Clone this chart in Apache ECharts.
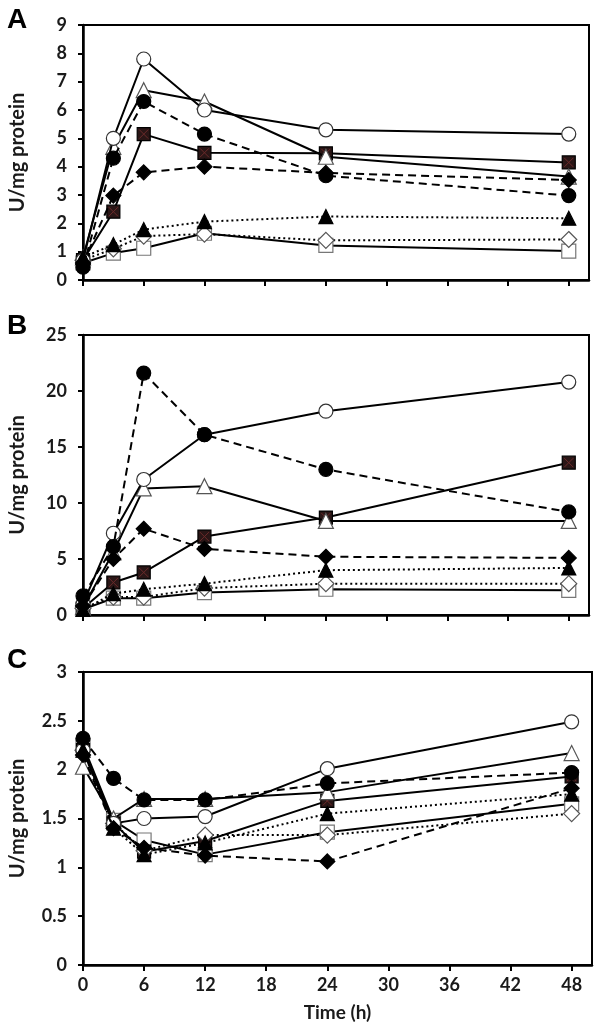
<!DOCTYPE html>
<html><head><meta charset="utf-8">
<script src="https://cdn.jsdelivr.net/npm/echarts@6/dist/echarts.min.js"></script>
<style>html,body{margin:0;padding:0;background:#fff}#c{width:600px;height:1028px}</style>
</head><body><div id="c"></div>
<script>
const times = [0, 3, 6, 12, 24, 48];
const xTickValues = [0, 6, 12, 18, 24, 30, 36, 42, 48];
const panelLetters = ['A', 'B', 'C'];
const yMaxes = [9, 25, 3];
const yIntervals = [1, 5, 0.5];

// Panel A
const aOpenCircle    = [0.7, 5.0, 7.8, 6.0, 5.3, 5.15];
const aFilledCircle  = [0.45, 4.3, 6.3, 5.15, 3.68, 2.98];
const aOpenTriangle  = [0.8, 4.7, 6.7, 6.3, 4.35, 3.65];
const aFilledTriangle= [0.8, 1.25, 1.78, 2.06, 2.24, 2.18];
const aSquareX       = [0.7, 2.41, 5.15, 4.49, 4.47, 4.15];
const aOpenSquare    = [0.6, 0.95, 1.12, 1.65, 1.22, 1.02];
const aFilledDiamond = [0.6, 2.98, 3.8, 4.0, 3.78, 3.53];
const aOpenDiamond   = [0.7, 1.1, 1.55, 1.62, 1.4, 1.43];

// Panel B
const bOpenCircle    = [1.0, 7.3, 12.1, 16.1, 18.2, 20.8];
const bFilledCircle  = [1.7, 6.1, 21.6, 16.1, 13.0, 9.2];
const bOpenTriangle  = [0.7, 5.6, 11.3, 11.5, 8.4, 8.4];
const bFilledTriangle= [0.5, 1.9, 2.3, 2.8, 4.0, 4.2];
const bSquareX       = [0.6, 2.9, 3.8, 7.0, 8.7, 13.6];
const bOpenSquare    = [0.5, 1.5, 1.5, 2.0, 2.3, 2.2];
const bFilledDiamond = [0.8, 5.0, 7.7, 5.9, 5.2, 5.1];
const bOpenDiamond   = [0.6, 1.6, 1.6, 2.4, 2.8, 2.8];

// Panel C
const cOpenCircle    = [2.2, 1.45, 1.5, 1.52, 2.01, 2.49];
const cFilledCircle  = [2.32, 1.91, 1.69, 1.69, 1.86, 1.97];
const cOpenTriangle  = [2.03, 1.5, 1.7, 1.7, 1.77, 2.17];
const cFilledTriangle= [2.2, 1.4, 1.13, 1.25, 1.55, 1.75];
const cSquareX       = [2.2, 1.45, 1.16, 1.27, 1.68, 1.93];
const cOpenSquare    = [2.25, 1.48, 1.28, 1.13, 1.36, 1.65];
const cFilledDiamond = [2.15, 1.4, 1.2, 1.12, 1.06, 1.81];
const cOpenDiamond   = [2.2, 1.45, 1.17, 1.33, 1.33, 1.55];

const panels = [
  [aOpenCircle, aFilledCircle, aOpenTriangle, aFilledTriangle, aSquareX, aOpenSquare, aFilledDiamond, aOpenDiamond],
  [bOpenCircle, bFilledCircle, bOpenTriangle, bFilledTriangle, bSquareX, bOpenSquare, bFilledDiamond, bOpenDiamond],
  [cOpenCircle, cFilledCircle, cOpenTriangle, cFilledTriangle, cSquareX, cOpenSquare, cFilledDiamond, cOpenDiamond]
];

const DASH = [8, 5], DOT = [2, 3];
const styles = [
  {symbol: 'circle',   size: 14, fill: '#fff', border: '#333', line: 'solid', z: 6},
  {symbol: 'circle',   size: 14, fill: '#000', border: '#000', line: DASH, z: 9},
  {symbol: 'triangle', size: 15, fill: '#fff', border: '#555', line: 'solid', z: 5},
  {symbol: 'triangle', size: 14, fill: '#000', border: '#000', line: DOT, z: 7},
  {symbol: 'rect',     size: 13, fill: '#2a1616', border: '#000', line: 'solid', z: 3},
  {symbol: 'rect',     size: 14, fill: '#fff', border: '#777', line: 'solid', z: 2},
  {symbol: 'diamond',  size: 15, fill: '#000', border: '#000', line: DASH, z: 8},
  {symbol: 'diamond',  size: 16, fill: '#fff', border: '#555', line: DOT, z: 4}
];

const grids = [
  {left: 80, right: 11, top: 25, height: 255},
  {left: 80, right: 11, top: 335, height: 280},
  {left: 81, right: 8, top: 672, height: 293}
];
const letterTops = [1, 307, 641];

const FONT = 'Lato';
const xAxes = [], yAxes = [], series = [], titles = [];
grids.forEach((g, p) => {
  g.show = true; g.borderColor = '#000'; g.borderWidth = 2; g.backgroundColor = '#fff';
  xAxes.push({
    gridIndex: p, type: 'value', min: 0, max: 50,
    axisLine: {show: true, onZero: false, lineStyle: {color: '#000', width: 2.5}},
    axisTick: {show: true, inside: false, length: 6, customValues: xTickValues, lineStyle: {color: '#000', width: 2}},
    axisLabel: {show: p === 2, customValues: xTickValues, margin: 11, color: '#1a1a1a', fontFamily: FONT, fontWeight: 'bold', fontSize: 18},
    splitLine: {show: false},
    name: p === 2 ? 'Time (h)' : '', nameLocation: 'middle', nameGap: 38,
    nameTextStyle: {color: '#1a1a1a', fontFamily: FONT, fontWeight: 'bold', fontSize: 19}
  });
  yAxes.push({
    gridIndex: p, type: 'value', min: 0, max: yMaxes[p], interval: yIntervals[p],
    axisLine: {show: true, lineStyle: {color: '#000', width: 2.5}},
    axisTick: {show: true, inside: false, length: 5, lineStyle: {color: '#000', width: 2}},
    axisLabel: {margin: 16, color: '#1a1a1a', fontFamily: FONT, fontWeight: 'bold', fontSize: 18},
    splitLine: {show: false},
    name: 'U/mg protein', nameLocation: 'middle', nameGap: 55,
    nameTextStyle: {color: '#1a1a1a', fontFamily: FONT, fontWeight: 'bold', fontSize: 20}
  });
  titles.push({text: panelLetters[p], left: 2, top: letterTops[p],
    textStyle: {fontFamily: 'Liberation Sans', fontWeight: 'bold', fontSize: 28, color: '#000'}});
  panels[p].forEach((vals, s) => {
    const st = styles[s];
    series.push({
      type: 'line', xAxisIndex: p, yAxisIndex: p,
      data: times.map((t, i) => [t, vals[i]]),
      symbol: st.symbol, symbolSize: st.size, showAllSymbol: true,
      lineStyle: {color: '#000', width: 2, type: st.line},
      itemStyle: {color: st.fill, borderColor: st.border, borderWidth: 1.2},
      z: st.z, animation: false, silent: true
    });
    if (s === 4) {
      series.push({
        type: 'line', xAxisIndex: p, yAxisIndex: p,
        data: times.map((t, i) => [t, vals[i]]),
        symbol: 'path://M0,0 L10,10 M10,0 L0,10', symbolSize: 9, showAllSymbol: true,
        lineStyle: {width: 0, opacity: 0},
        itemStyle: {color: 'none', borderColor: '#6a2a2a', borderWidth: 1},
        z: st.z, zlevel: 0, animation: false, silent: true
      });
    }
  });
});

const chart = echarts.init(document.getElementById('c'), null, {renderer: 'canvas'});
chart.setOption({
  animation: false,
  title: titles,
  grid: grids,
  xAxis: xAxes,
  yAxis: yAxes,
  series: series
});
</script></body></html>
